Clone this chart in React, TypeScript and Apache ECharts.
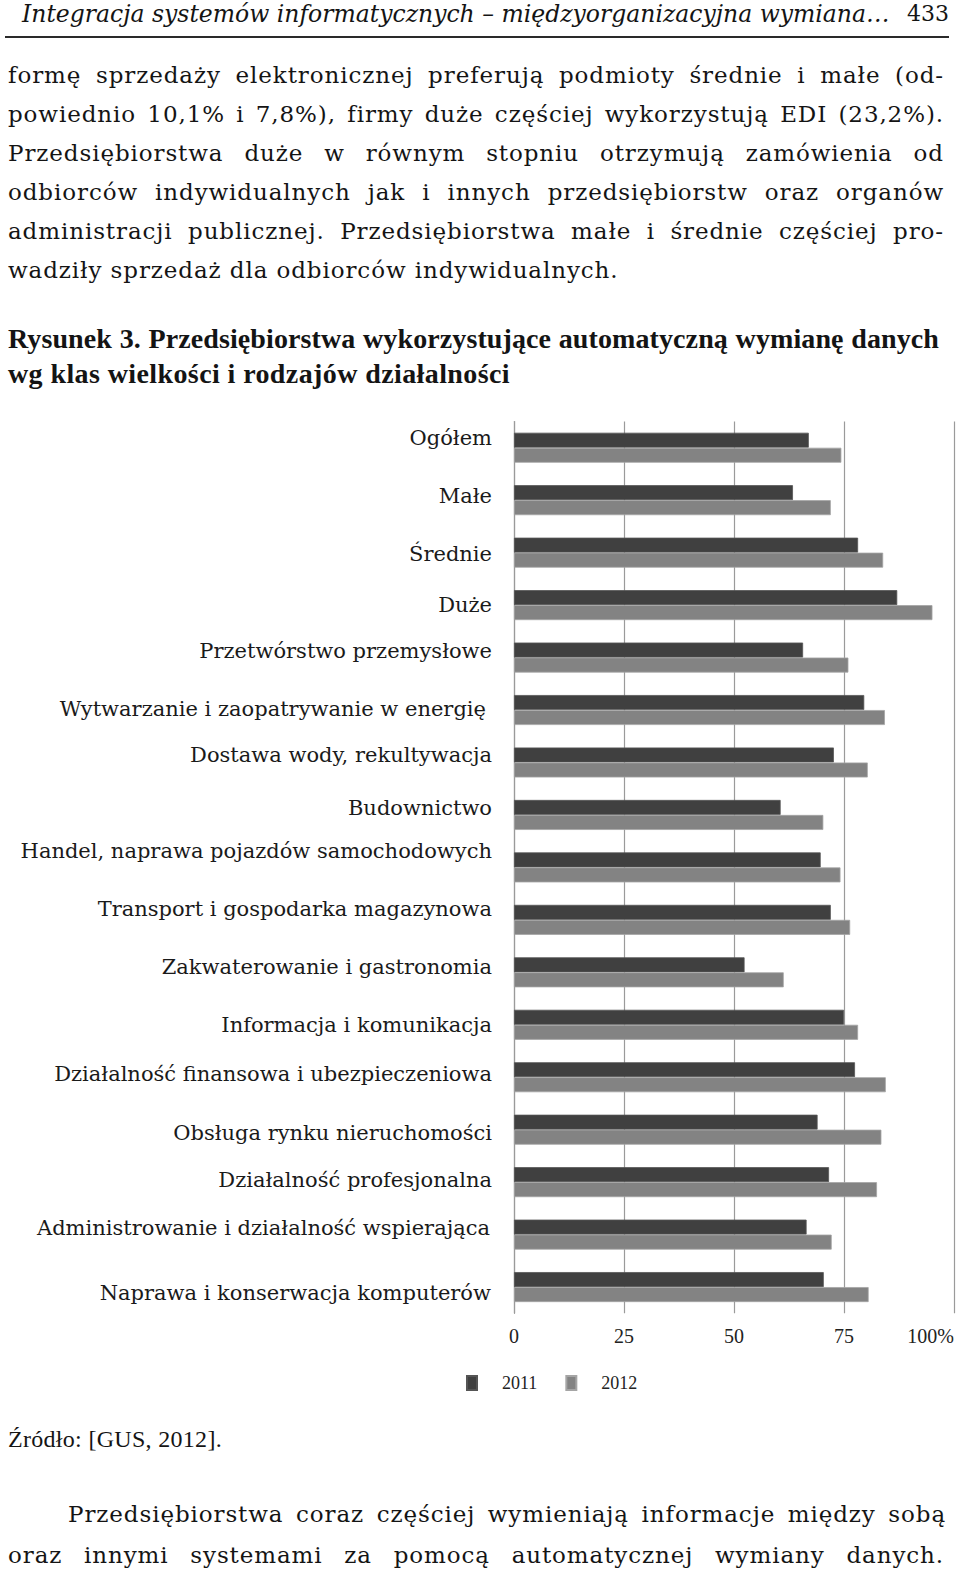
import React, { useEffect, useRef } from "react";
import * as echarts from "echarts";

const categories = [
  "Ogółem",
  "Małe",
  "Średnie",
  "Duże",
  "Przetwórstwo przemysłowe",
  "Wytwarzanie i zaopatrywanie w energię",
  "Dostawa wody, rekultywacja",
  "Budownictwo",
  "Handel, naprawa pojazdów samochodowych",
  "Transport i gospodarka magazynowa",
  "Zakwaterowanie i gastronomia",
  "Informacja i komunikacja",
  "Działalność finansowa i ubezpieczeniowa",
  "Obsługa rynku nieruchomości",
  "Działalność profesjonalna",
  "Administrowanie i działalność wspierająca",
  "Naprawa i konserwacja komputerów",
];

const values2011 = [67, 63.4, 78.2, 87.1, 65.7, 79.6, 72.7, 60.6, 69.7, 72, 52.4, 75, 77.5, 69, 71.6, 66.5, 70.4];
const values2012 = [74.4, 72, 83.9, 95.1, 76, 84.3, 80.4, 70.3, 74.2, 76.4, 61.3, 78.2, 84.5, 83.5, 82.5, 72.2, 80.6];

const seriesNames = ["2011", "2012"];
const xTicks = [0, 25, 50, 75, 100];

// layout nudges of the category labels (px up(-)/down(+), px left)
const labelNudgeY = [-10, -4, 1, 0, -7, -1, -7, -7, -16, -11, -5, 0, -3, 3, -2, -7, 6];
const labelNudgeX = [0, 0, 0, 0, 0, 6, 0, 0, 0, 0, 0, 0, 0, 0, 0, 2, 1];

const bodyLines = [
  "formę sprzedaży elektronicznej preferują podmioty średnie i małe (od-",
  "powiednio 10,1% i 7,8%), firmy duże częściej wykorzystują EDI (23,2%).",
  "Przedsiębiorstwa duże w równym stopniu otrzymują zamówienia od",
  "odbiorców indywidualnych jak i innych przedsiębiorstw oraz organów",
  "administracji publicznej. Przedsiębiorstwa małe i średnie częściej pro-",
  "wadziły sprzedaż dla odbiorców indywidualnych.",
];

const BODY_FONT = '"DejaVu Serif", serif';
const TIMES = '"Liberation Serif", serif';

function Chart() {
  const ref = useRef<HTMLDivElement>(null);
  useEffect(() => {
    if (!ref.current) return;
    const chart = echarts.init(ref.current, null, { renderer: "svg" });
    const yData = categories.map((c, i) => {
      const dy = labelNudgeY[i];
      const dx = labelNudgeX[i];
      if (dy === 0) {
        return { value: c, textStyle: { padding: [0, dx, 0, 0] } };
      }
      return {
        value: c,
        textStyle: {
          lineHeight: 2,
          verticalAlign: dy > 0 ? "top" : "bottom",
          padding: [dy > 0 ? dy - 1 : 0, dx, dy < 0 ? -dy - 1 : 0, 0],
        },
      };
    });
    chart.setOption({
      animation: false,
      backgroundColor: "#ffffff",
      grid: { left: 514, right: 6, top: 21.5, bottom: 86.7, containLabel: false },
      legend: {
        data: seriesNames,
        left: 461,
        top: 969,
        icon: "rect",
        itemWidth: 10,
        itemHeight: 14,
        itemGap: 28,
        textStyle: { fontFamily: TIMES, fontSize: 18, color: "#222", padding: [0, 0, 0, 20] },
      },
      xAxis: {
        type: "value",
        min: 0,
        max: 100,
        interval: 25,
        axisLine: { show: false },
        axisTick: { show: false },
        splitLine: { show: true, lineStyle: { color: "#9a9a9a", width: 1.2 } },
        axisLabel: {
          margin: 13,
          fontFamily: TIMES,
          fontSize: 20,
          color: "#222",
          alignMaxLabel: "right",
          formatter: (v: number) => (v === xTicks[xTicks.length - 1] ? v + "%" : String(v)),
        },
      },
      yAxis: {
        type: "category",
        inverse: true,
        data: yData,
        axisLine: { show: true, lineStyle: { color: "#9a9a9a", width: 1.2 } },
        axisTick: { show: false },
        axisLabel: {
          margin: 22,
          fontFamily: BODY_FONT,
          fontSize: 21,
          color: "#1a1a1a",
        },
      },
      series: [
        {
          name: seriesNames[0],
          type: "bar",
          data: values2011,
          barWidth: 15,
          barGap: "0%",
          itemStyle: { color: "#404040", borderColor: "#555555", borderWidth: 0.8 },
        },
        {
          name: seriesNames[1],
          type: "bar",
          data: values2012,
          barWidth: 15,
          barGap: "0%",
          itemStyle: { color: "#838383", borderColor: "#a5a5a5", borderWidth: 0.8 },
        },
      ],
    });
    return () => chart.dispose();
  }, []);
  return (
    <div
      ref={ref}
      style={{ position: "absolute", left: 0, top: 400, width: 960, height: 1000 }}
    />
  );
}

function Line(props: {
  text: string;
  left: number;
  width?: number;
  cy: number;
  font: string;
  size: number;
  spacing?: number;
  justify?: boolean;
  italic?: boolean;
  bold?: boolean;
}) {
  const lh = Math.round(props.size * 1.3);
  return (
    <div
      style={{
        position: "absolute",
        left: props.left,
        top: props.cy - lh / 2,
        width: props.width,
        height: lh,
        lineHeight: lh + "px",
        fontFamily: props.font,
        fontSize: props.size,
        letterSpacing: (props.spacing || 0) + "px",
        fontStyle: props.italic ? "italic" : "normal",
        fontWeight: props.bold ? "bold" : "normal",
        color: "#141414",
        whiteSpace: "nowrap",
        textAlign: props.justify ? "justify" : "left",
        textAlignLast: props.justify ? "justify" : "auto",
      }}
    >
      {props.text}
    </div>
  );
}

export default function App() {
  const bodyCenters = [75, 114, 153, 192, 231, 270];
  return (
    <div
      style={{
        position: "absolute",
        left: 0,
        top: 0,
        width: 960,
        height: 1575,
        background: "#ffffff",
        overflow: "hidden",
      }}
    >
      <Line
        text="Integracja systemów informatycznych – międzyorganizacyjna wymiana…"
        left={22}
        width={867}
        cy={14}
        font={BODY_FONT}
        size={23.5}
        italic
        justify
      />
      <Line text="433" left={907} cy={13} font={BODY_FONT} size={22} />
      <div
        style={{ position: "absolute", left: 5, top: 36, width: 944, height: 2, background: "#2a2a2a" }}
      />
      {bodyLines.map((t, i) => (
        <Line
          key={i}
          text={t}
          left={8}
          width={936}
          cy={bodyCenters[i]}
          font={BODY_FONT}
          size={23}
          spacing={0.9}
          justify={i < bodyLines.length - 1}
        />
      ))}
      <Line
        text="Rysunek 3. Przedsiębiorstwa wykorzystujące automatyczną wymianę danych"
        left={8}
        width={931}
        cy={339}
        font={TIMES}
        size={28}
        spacing={0.1}
        bold
        justify
      />
      <Line
        text="wg klas wielkości i rodzajów działalności"
        left={8}
        cy={374}
        font={TIMES}
        size={28}
        spacing={0.4}
        bold
      />
      <Chart />
      <Line text="Źródło: [GUS, 2012]." left={8} cy={1439} font={TIMES} size={24} spacing={0.3} />
      <Line
        text="Przedsiębiorstwa coraz częściej wymieniają informacje między sobą"
        left={68}
        width={878}
        cy={1514}
        font={BODY_FONT}
        size={23}
        spacing={0.9}
        justify
      />
      <Line
        text="oraz innymi systemami za pomocą automatycznej wymiany danych."
        left={8}
        width={936}
        cy={1555}
        font={BODY_FONT}
        size={23}
        spacing={0.9}
        justify
      />
    </div>
  );
}
